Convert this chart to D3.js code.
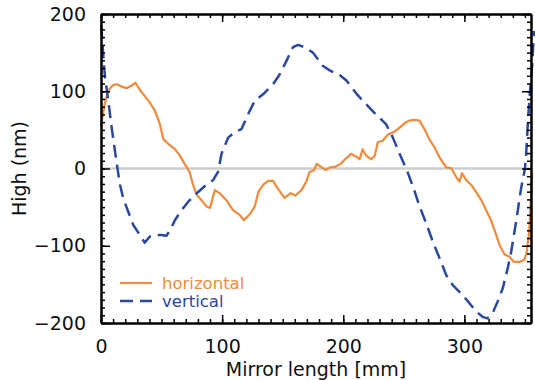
<!DOCTYPE html>
<html>
<head>
<meta charset="utf-8">
<script src="https://cdn.jsdelivr.net/npm/d3@7"></script>
<style>
body { margin: 0; background: #fff; }
text { font-family: "DejaVu Sans", sans-serif; }
</style>
</head>
<body>
<div id="chart"></div>
<script>
const width = 535
const height = 380

// mirror profiles [position mm, height nm]
const horizontal = [
[0,55],[3,83],[6,101],[10,108],[13,109],[17,106],[21,104],[25,107],[28.5,111],[32,102],
[36,94],[40,86],[44.5,75],[48.5,58],[51.5,38],[55.5,32],[61,25],[65,17],[69,6],[73,-4],
[76,-21],[79,-34],[83,-41],[87,-49],[90,-51],[94,-28],[98,-32],[103.5,-41],[109,-54],[114.5,-60],
[118,-67],[123,-59],[127,-49],[130,-30],[134,-21],[138,-16],[142,-16],[146,-26],[151.5,-38],[156.5,-32],
[160.5,-35],[165.5,-28],[169.5,-17],[172,-5],[176,-2],[178,6],[180.5,3.5],[185.5,-2],[189,1.5],[193,2],
[198,6],[202.5,13.5],[206.5,19],[211,15],[213.5,12],[216,25],[219,16.5],[223,12],[226,16.5],[228.5,34],
[232.5,36],[237,44],[242.5,48],[246.5,53],[250.5,58.5],[254.5,62],[259,63],[263,62],[267,51],[271,38],
[275.5,27],[279.5,14.5],[285,1.5],[289,0.5],[290.5,-3],[293,-10.5],[296,-17],[298,-6],[301.5,-15],[305.5,-21],
[309.5,-30],[314,-41],[318,-54],[322,-67],[325,-80],[329,-99],[333,-111],[337,-114],[341,-121],[345.5,-121],
[349.5,-118],[351.5,-108],[353.5,-82],[355,-38],[356,-5]
]

const vertical = [
[0,185],[0.5,178],[2,144],[3.3,118],[6,88],[8.8,53],[11.5,23],[14,-4],[15.7,-21],[18.4,-39],
[22.5,-56],[26.6,-73],[32,-86],[36,-96],[40.4,-88],[44.5,-86],[50,-86],[54,-87],[57,-80],[61,-67],
[66.5,-54],[72,-43],[79,-32],[87,-21],[92.6,-15],[96.7,-4],[99.5,19],[105,40],[110.5,47],[116,51],
[121.4,70],[127,88],[133.8,96],[142,109],[147.6,122],[153,139],[158.5,157],[162.7,160],[168,157],[175,150],
[183,133],[188.8,127],[197,121],[202.6,114],[210.8,97],[219,83],[227,70],[235.5,57],[241,40],[246.5,19],
[253,-4],[259,-30],[263,-49],[268.5,-71],[274,-95],[279.5,-116],[285,-138],[290.4,-151],[297.4,-162],[304,-174],
[309.7,-185],[315,-192],[319,-194],[323.4,-187],[327.5,-172],[331.7,-155],[335.8,-129],[338.6,-108],[342.7,-69],[346.8,-26],
[350,0],[351,19],[352.5,62],[354,96],[356,135],[357.5,178]
]

const xMajor = [0,100,200,300]
const yMajor = [-200,-100,0,100,200]
const xMinor = d3.range(0,356,10)
const yMinor = d3.range(-200,201,10)

const series = [
{ name:"horizontal", data:horizontal, color:"#f28a3c", dash:null, w:2.2 },
{ name:"vertical", data:vertical, color:"#2a48a2", dash:"13,7", w:2.5 }
]

const m = { left:101, right:4, top:14, bottom:57 }

const svg = d3.select("#chart")
.append("svg")
.attr("width",width)
.attr("height",height)

const x = d3.scaleLinear().domain([0,355]).range([m.left,width-m.right])
const y = d3.scaleLinear().domain([-200,200]).range([height-m.bottom,m.top])

// zero line
svg.append("line")
.attr("x1",x(0)).attr("x2",x(355))
.attr("y1",y(0)).attr("y2",y(0))
.attr("stroke","#cccccc")
.attr("stroke-width",2.5)

const line = d3.line().x(d=>x(d[0])).y(d=>y(d[1]))

series.forEach(s=>{
svg.append("path")
.datum(s.data)
.attr("d",line)
.attr("fill","none")
.attr("stroke",s.color)
.attr("stroke-width",s.w)
.attr("stroke-dasharray",s.dash)
.attr("stroke-linejoin","round")
})

// axes, ticks pointing inward
function styleAxis(g){
g.select(".domain").attr("stroke","#000").attr("stroke-width",2)
g.selectAll(".tick line").attr("stroke","#000").attr("stroke-width",1.5)
g.selectAll("text").attr("font-size",19).attr("fill","#111")
}

const yb = y(-200), yt = y(200), xl = x(0), xr = x(355)

svg.append("g").attr("transform",`translate(0,${yb})`)
.call(d3.axisBottom(x).tickValues(xMinor).tickSize(-4).tickSizeOuter(0).tickFormat(""))
.call(styleAxis)
svg.append("g").attr("transform",`translate(0,${yb})`)
.call(d3.axisBottom(x).tickValues(xMajor).tickSize(-8).tickSizeOuter(0).tickPadding(17).tickFormat(d3.format("d")))
.call(styleAxis)

svg.append("g").attr("transform",`translate(0,${yt})`)
.call(d3.axisTop(x).tickValues(xMinor).tickSize(-4).tickSizeOuter(0).tickFormat(""))
.call(styleAxis)
svg.append("g").attr("transform",`translate(0,${yt})`)
.call(d3.axisTop(x).tickValues(xMajor).tickSize(-8).tickSizeOuter(0).tickFormat(""))
.call(styleAxis)

svg.append("g").attr("transform",`translate(${xl},0)`)
.call(d3.axisLeft(y).tickValues(yMinor).tickSize(-4).tickSizeOuter(0).tickFormat(""))
.call(styleAxis)
svg.append("g").attr("transform",`translate(${xl},0)`)
.call(d3.axisLeft(y).tickValues(yMajor).tickSize(-9).tickSizeOuter(0).tickPadding(15).tickFormat(d3.format("d")))
.call(styleAxis)

svg.append("g").attr("transform",`translate(${xr},0)`)
.call(d3.axisRight(y).tickValues(yMinor).tickSize(-4).tickSizeOuter(0).tickFormat(""))
.call(styleAxis)
svg.append("g").attr("transform",`translate(${xr},0)`)
.call(d3.axisRight(y).tickValues(yMajor).tickSize(-9).tickSizeOuter(0).tickFormat(""))
.call(styleAxis)

// axis titles
svg.append("text")
.attr("x",(xl+xr)/2)
.attr("y",376)
.attr("text-anchor","middle")
.attr("font-size",19)
.attr("fill","#111")
.text("Mirror length [mm]")

svg.append("text")
.attr("transform",`translate(26,${(yt+yb)/2}) rotate(-90)`)
.attr("text-anchor","middle")
.attr("font-size",19)
.attr("fill","#111")
.text("High (nm)")

// legend
const legend = svg.selectAll(".leg")
.data(series)
.enter()
.append("g")
.attr("transform",(d,i)=>`translate(120,${283+i*18})`)

legend.append("line")
.attr("x1",0).attr("x2",32)
.attr("stroke",d=>d.color)
.attr("stroke-width",d=>d.w)
.attr("stroke-dasharray",d=>d.dash)

legend.append("text")
.attr("x",42)
.attr("y",6)
.attr("font-size",16.5)
.attr("fill",d=>d.color)
.text(d=>d.name)
</script>
</body>
</html>
